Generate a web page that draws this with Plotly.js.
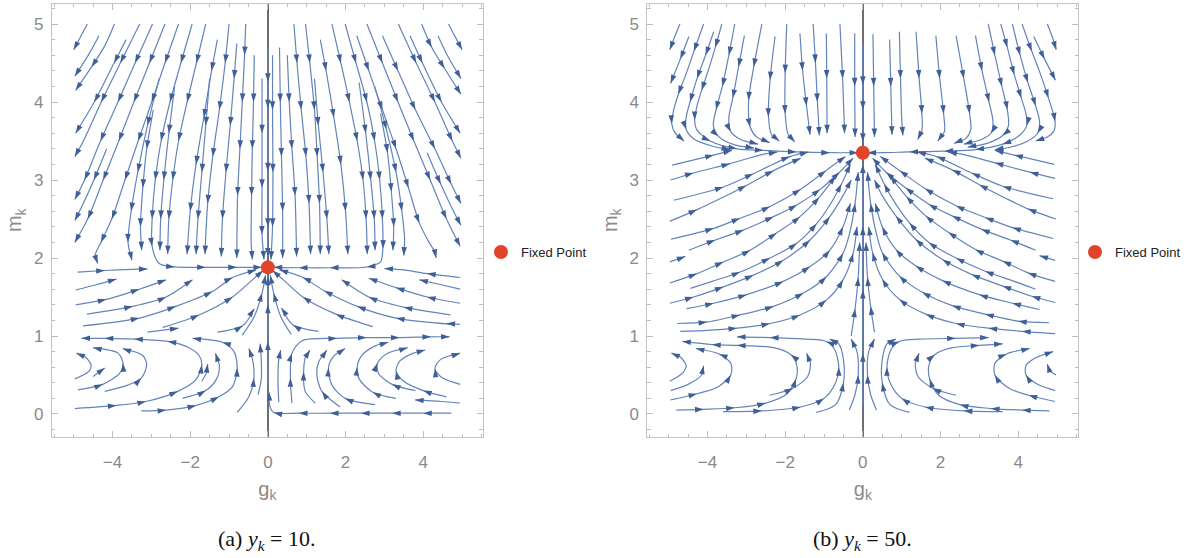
<!DOCTYPE html>
<html><head><meta charset="utf-8">
<script src="https://cdn.plot.ly/plotly-3.0.1.min.js"></script>
<style>html,body{margin:0;padding:0;background:#fff;}#chart{width:1186px;height:558px;}</style>
</head><body><div id="chart"></div>
<script>
// ---------------- DATA ----------------
const panelCaptions = ['(a) <i>y</i><sub><i>k</i></sub> = 10.', '(b) <i>y</i><sub><i>k</i></sub> = 50.'];
const fixedPointG = [0, 0];
const fixedPointM = [1.88, 3.35];
const xTickVals = [-4, -2, 0, 2, 4];
const yTickVals = [0, 1, 2, 3, 4, 5];
const legendName = 'Fixed Point';

// Panel (a): streamlines, each a list of [g_k, m_k] points in flow order
const a_upperLeft = [
  [[-4.65,5.0],[-4.83,4.83],[-5.0,4.67]],
  [[-4.35,4.85],[-4.6,4.62],[-4.97,4.33]],
  [[-3.95,5.0],[-4.2,4.72],[-4.54,4.45],[-4.95,4.15]],
  [[-3.65,4.8],[-3.96,4.5],[-4.47,4.0],[-4.95,3.6]],
  [[-3.3,5.0],[-3.8,4.5],[-4.29,4.0],[-4.75,3.5],[-4.97,3.3]],
  [[-2.97,5.0],[-3.42,4.5],[-3.86,4.0],[-4.31,3.5],[-4.72,3.0],[-4.97,2.75]],
  [[-4.15,3.4],[-4.48,3.0],[-4.8,2.65],[-4.97,2.48]],
  [[-2.65,5.0],[-3.05,4.5],[-3.45,4.0],[-3.84,3.5],[-4.24,3.0],[-4.64,2.5],[-4.97,2.2]],
  [[-2.3,5.0],[-2.65,4.5],[-2.99,4.0],[-3.34,3.5],[-3.68,3.0],[-4.02,2.5],[-4.3,2.2],[-4.45,2.03],[-4.38,1.93]],
  [[-2.8,4.3],[-3.1,3.7],[-3.35,3.1],[-3.52,2.6],[-3.6,2.2],[-3.5,1.97]],
  [[-2.95,3.9],[-3.12,3.4],[-3.22,2.9],[-3.28,2.4],[-3.25,2.1]],
  [[-1.95,5.0],[-2.24,4.5],[-2.52,4.0],[-2.75,3.5],[-2.9,3.0],[-2.98,2.5],[-2.98,2.15],[-2.8,1.93],[-2.4,1.885],[-1.6,1.88],[-0.8,1.88],[-0.15,1.88]],
  [[-2.4,4.2],[-2.55,3.6],[-2.68,3.0],[-2.76,2.5],[-2.78,2.1]],
  [[-1.6,5.0],[-1.84,4.5],[-2.08,4.0],[-2.3,3.5],[-2.45,3.0],[-2.55,2.5],[-2.58,2.05]],
  [[-1.3,4.8],[-1.45,4.4],[-1.65,3.8],[-1.85,3.2],[-2.0,2.6],[-2.08,2.05]],
  [[-1.5,4.3],[-1.6,3.7],[-1.7,3.1],[-1.8,2.5],[-1.85,2.05]],
  [[-1.0,5.0],[-1.1,4.5],[-1.25,3.9],[-1.42,3.3],[-1.55,2.7],[-1.62,2.05]],
  [[-0.8,4.75],[-0.87,4.3],[-0.97,3.7],[-1.08,3.1],[-1.17,2.5],[-1.2,2.02]],
  [[-0.57,5.0],[-0.6,4.6],[-0.66,4.0],[-0.72,3.4],[-0.78,2.8],[-0.8,2.0]],
  [[-0.35,4.6],[-0.37,4.0],[-0.4,3.4],[-0.42,2.8],[-0.43,2.2],[-0.4,1.98]],
  [[-0.15,4.3],[-0.15,3.6],[-0.15,2.9],[-0.15,2.3],[-0.1,1.98]],
  [[-4.9,1.82],[-4.2,1.84],[-3.5,1.855],[-3.1,1.86]]
];
const a_upperRight = [
  [[4.65,5.0],[4.83,4.83],[5.0,4.67]],
  [[4.38,4.85],[4.62,4.6],[4.97,4.3]],
  [[3.96,5.0],[4.22,4.7],[4.55,4.43],[4.97,4.1]],
  [[3.66,4.85],[3.98,4.5],[4.47,4.0],[4.95,3.6]],
  [[3.36,5.0],[3.82,4.5],[4.3,4.0],[4.75,3.5],[4.97,3.28]],
  [[2.95,4.85],[3.35,4.4],[3.8,3.9],[4.3,3.4],[4.72,2.95],[4.97,2.7]],
  [[4.1,3.35],[4.45,2.95],[4.78,2.6],[4.97,2.42]],
  [[2.55,5.0],[2.95,4.5],[3.35,4.0],[3.76,3.5],[4.18,3.0],[4.6,2.5],[4.95,2.15]],
  [[2.29,4.85],[2.6,4.4],[2.95,3.9],[3.3,3.4],[3.62,2.9],[3.9,2.45],[4.15,2.2],[4.3,2.08],[4.33,2.0]],
  [[2.75,4.2],[3.05,3.65],[3.3,3.1],[3.45,2.6],[3.52,2.25],[3.5,2.03]],
  [[2.9,3.85],[3.08,3.35],[3.18,2.85],[3.24,2.4],[3.22,2.1]],
  [[1.99,5.0],[2.27,4.5],[2.55,4.0],[2.75,3.5],[2.88,3.0],[2.95,2.5],[2.96,2.12],[2.9,1.95],[2.55,1.885],[1.6,1.875],[0.8,1.875],[0.15,1.88]],
  [[2.35,4.25],[2.52,3.6],[2.65,3.0],[2.74,2.5],[2.76,2.1]],
  [[1.65,5.0],[1.88,4.5],[2.1,4.0],[2.3,3.5],[2.45,3.0],[2.53,2.5],[2.56,2.05]],
  [[1.35,4.8],[1.5,4.4],[1.7,3.8],[1.88,3.2],[2.0,2.6],[2.06,2.05]],
  [[1.2,4.3],[1.3,3.7],[1.42,3.1],[1.52,2.5],[1.57,2.05]],
  [[0.97,5.0],[1.08,4.5],[1.2,3.9],[1.27,3.3],[1.33,2.7],[1.35,2.05]],
  [[0.67,5.0],[0.75,4.5],[0.86,3.9],[0.98,3.3],[1.06,2.7],[1.1,2.05]],
  [[0.5,4.6],[0.55,4.0],[0.62,3.4],[0.7,2.8],[0.74,2.02]],
  [[0.3,4.7],[0.32,4.0],[0.35,3.3],[0.38,2.6],[0.38,2.0]],
  [[0.12,4.6],[0.12,3.9],[0.13,3.1],[0.12,2.4],[0.08,1.98]],
  [[4.95,1.75],[4.1,1.8],[3.45,1.85],[3.0,1.865]]
];
const a_axis = [
  [[0,4.7],[0,4.26],[0,3.92],[0,3.11],[0,2.4],[0,2.02]],
  [[0,0.35],[0,0.93],[0,1.4],[0,1.76]]
];
const a_bandLeft = [
  [[-4.95,1.59],[-4.4,1.66],[-3.9,1.73]],
  [[-4.95,1.4],[-4.16,1.47],[-3.31,1.6],[-2.62,1.72]],
  [[-4.66,1.28],[-3.48,1.38],[-2.62,1.5],[-1.94,1.72]],
  [[-4.76,1.13],[-3.31,1.23],[-2.37,1.38],[-1.43,1.57],[-0.91,1.75],[-0.3,1.85]],
  [[-2.71,1.11],[-1.77,1.27],[-0.91,1.5],[-0.4,1.72],[-0.12,1.84]],
  [[-3.1,1.05],[-2.3,1.1]],
  [[-1.3,1.05],[-0.65,1.13],[-0.35,1.35]],
  [[-0.66,1.01],[-0.35,1.25],[-0.15,1.55],[-0.06,1.78]]
];
const a_bandRight = [
  [[4.95,1.6],[4.35,1.67],[3.9,1.72]],
  [[4.95,1.42],[4.1,1.5],[3.3,1.62],[2.6,1.74]],
  [[4.7,1.27],[3.5,1.37],[2.6,1.5],[1.9,1.72]],
  [[4.75,1.15],[3.3,1.23],[2.3,1.38],[1.45,1.58],[0.9,1.75],[0.3,1.85]],
  [[2.7,1.12],[1.75,1.28],[0.9,1.5],[0.4,1.72],[0.12,1.84]],
  [[1.3,1.06],[0.65,1.14],[0.35,1.36]],
  [[0.6,1.02],[0.33,1.25],[0.15,1.55],[0.06,1.78]],
  [[4.95,1.15],[4.6,1.16]]
];
const a_loopLeft = [
  [[-4.97,0.07],[-3.9,0.11],[-3.14,0.16],[-2.32,0.29],[-1.85,0.44],[-1.7,0.63],[-1.77,0.75],[-2.03,0.85],[-2.58,0.93],[-3.44,0.96],[-4.2,0.97],[-4.8,0.97]],
  [[-3.26,0.04],[-2.62,0.05],[-1.85,0.11],[-1.26,0.22],[-0.91,0.35],[-0.79,0.59],[-0.87,0.8],[-1.17,0.92],[-1.94,0.97]],
  [[-2.2,0.2],[-1.6,0.3],[-1.32,0.45],[-1.25,0.62],[-1.35,0.78]],
  [[-1.7,0.42],[-1.58,0.53],[-1.55,0.64]],
  [[-0.79,0.02],[-0.49,0.22],[-0.36,0.46],[-0.4,0.71],[-0.49,0.84]],
  [[-0.25,0.25],[-0.17,0.45],[-0.17,0.7],[-0.2,0.9]],
  [[-4.97,0.45],[-4.6,0.55],[-4.55,0.63],[-4.7,0.73],[-4.93,0.78]],
  [[-4.5,0.48],[-4.2,0.59]],
  [[-4.89,0.31],[-4.25,0.38],[-3.82,0.52],[-3.73,0.65],[-3.86,0.78],[-4.5,0.85]],
  [[-4.2,0.29],[-3.61,0.37],[-3.26,0.46],[-3.12,0.63],[-3.22,0.75],[-3.74,0.84]]
];
const a_loopRight = [
  [[4.72,0.01],[4.0,0.01],[3.2,0.01],[2.4,0.01],[1.6,0.01],[0.8,0.01],[0.15,0.02],[0.05,0.1],[0.03,0.28]],
  [[0.62,0.14],[0.58,0.46],[0.62,0.78],[0.88,0.94],[1.78,0.97],[2.54,0.98],[3.39,0.98],[4.2,0.99],[4.68,0.99]],
  [[0.28,0.15],[0.26,0.45],[0.28,0.7],[0.33,0.82]],
  [[1.22,0.14],[0.96,0.29],[0.92,0.54],[0.97,0.73],[1.09,0.82]],
  [[1.86,0.09],[1.39,0.29],[1.26,0.5],[1.31,0.67],[1.52,0.82]],
  [[2.76,0.12],[1.99,0.2],[1.65,0.37],[1.56,0.59],[1.69,0.74],[1.99,0.84]],
  [[3.3,0.2],[2.7,0.28],[2.35,0.45],[2.3,0.6],[2.42,0.75],[2.75,0.87],[3.1,0.92]],
  [[3.8,0.3],[3.2,0.38],[2.85,0.52],[2.82,0.65],[3.05,0.77],[3.6,0.85]],
  [[4.6,0.22],[4.0,0.3],[3.5,0.42],[3.3,0.55],[3.4,0.68],[3.75,0.78],[4.05,0.82]],
  [[4.95,0.38],[4.5,0.46],[4.3,0.58],[4.45,0.7],[4.95,0.78]],
  [[4.94,0.14],[4.47,0.16],[3.79,0.18]]
];

// Panel (b)
const b_upperLeft = [
  [[-4.71,5.0],[-4.85,4.83],[-4.97,4.67]],
  [[-4.48,4.84],[-4.7,4.55],[-4.95,4.24]],
  [[-4.1,5.0],[-4.35,4.65],[-4.53,4.39],[-4.75,4.1],[-4.87,3.9],[-4.92,3.72],[-4.83,3.6],[-4.6,3.5]],
  [[-3.84,4.9],[-4.05,4.6],[-4.27,4.3],[-4.45,4.0],[-4.55,3.8],[-4.55,3.65],[-4.36,3.53],[-3.84,3.43],[-3.42,3.39]],
  [[-3.63,5.0],[-3.8,4.7],[-3.97,4.42],[-4.15,4.15],[-4.27,3.95],[-4.33,3.77],[-4.27,3.64],[-3.93,3.5],[-3.24,3.4],[-2.56,3.38],[-1.71,3.36],[-0.85,3.35],[-0.12,3.35]],
  [[-3.3,5.0],[-3.45,4.6],[-3.62,4.2],[-3.78,3.9],[-3.85,3.7],[-3.72,3.56],[-3.3,3.45],[-2.8,3.41]],
  [[-3.05,4.85],[-3.2,4.45],[-3.35,4.05],[-3.45,3.8],[-3.4,3.62],[-3.15,3.52],[-2.7,3.46]],
  [[-2.6,5.0],[-2.81,4.45],[-2.94,4.02],[-2.9,3.68],[-2.73,3.55],[-2.4,3.48]],
  [[-2.26,4.84],[-2.39,4.28],[-2.43,3.81],[-2.35,3.58],[-2.15,3.5]],
  [[-1.96,5.0],[-2.0,4.37],[-2.0,3.85],[-1.92,3.58],[-1.75,3.49]],
  [[-1.62,4.88],[-1.55,4.4],[-1.45,3.95],[-1.36,3.58]],
  [[-1.28,5.0],[-1.22,4.5],[-1.17,4.0],[-1.12,3.57]],
  [[-0.94,4.88],[-0.93,4.3],[-0.92,3.6]],
  [[-0.59,5.0],[-0.52,4.3],[-0.47,3.6]],
  [[-0.21,4.88],[-0.21,4.2],[-0.2,3.55]]
];
const b_upperRight = [
  [[4.75,5.0],[4.88,4.83],[4.98,4.67]],
  [[4.4,4.84],[4.68,4.55],[4.96,4.28]],
  [[4.1,5.0],[4.35,4.65],[4.55,4.39],[4.78,4.05],[4.95,3.75],[4.92,3.63],[4.75,3.55],[4.45,3.5]],
  [[3.85,5.0],[4.05,4.6],[4.25,4.25],[4.45,3.95],[4.55,3.75],[4.5,3.6],[4.25,3.5],[3.8,3.42],[3.4,3.39]],
  [[3.55,5.0],[3.72,4.7],[3.9,4.35],[4.08,4.05],[4.2,3.85],[4.22,3.7],[4.05,3.58],[3.6,3.46],[2.9,3.39],[2.1,3.37],[1.2,3.36],[0.5,3.35],[0.12,3.35]],
  [[3.23,5.0],[3.4,4.6],[3.58,4.2],[3.72,3.9],[3.75,3.7],[3.6,3.57],[3.2,3.47],[2.7,3.42]],
  [[2.9,4.85],[3.07,4.4],[3.25,4.0],[3.35,3.75],[3.3,3.6],[3.05,3.52],[2.6,3.46]],
  [[2.4,4.85],[2.6,4.3],[2.75,3.85],[2.78,3.65],[2.65,3.53],[2.35,3.47]],
  [[1.88,4.85],[1.98,4.3],[2.08,3.85],[2.1,3.62],[1.93,3.5]],
  [[1.37,4.9],[1.45,4.3],[1.52,3.85],[1.52,3.63],[1.41,3.52]],
  [[0.94,4.9],[0.97,4.3],[1.0,3.8],[1.03,3.57]],
  [[0.69,4.8],[0.72,4.2],[0.75,3.58]],
  [[0.26,4.87],[0.28,4.2],[0.3,3.55]]
];
const b_axis = [
  [[0,4.75],[0,4.22],[0,3.9],[0,3.49]],
  [[0,0.1],[0,0.78],[0,1.59],[0,2.4],[0,3.2]]
];
const b_bandLeft = [
  [[-4.91,3.19],[-3.84,3.32],[-3.37,3.38]],
  [[-4.95,3.0],[-4.36,3.09],[-3.42,3.21],[-2.65,3.32],[-2.2,3.36]],
  [[-4.87,2.74],[-3.59,2.91],[-2.82,3.08],[-1.88,3.3],[-1.4,3.36]],
  [[-4.97,2.47],[-4.27,2.62],[-3.76,2.74],[-3.0,2.93],[-2.3,3.12],[-1.6,3.28]],
  [[-4.94,2.24],[-3.84,2.38],[-3.16,2.51],[-2.39,2.66],[-1.6,2.88],[-0.95,3.12],[-0.45,3.3]],
  [[-4.97,1.95],[-4.57,2.02]],
  [[-4.48,2.1],[-3.8,2.23],[-3.07,2.36],[-2.3,2.53],[-1.7,2.68],[-1.1,2.88],[-0.6,3.1],[-0.25,3.28]],
  [[-4.97,1.68],[-4.27,1.8],[-3.59,1.95],[-2.9,2.1],[-2.22,2.32],[-1.62,2.53],[-1.12,2.78],[-0.7,3.05]],
  [[-4.44,1.61],[-3.88,1.7],[-3.16,1.82],[-2.39,2.0],[-1.7,2.19],[-1.19,2.44],[-0.85,2.68],[-0.55,2.95],[-0.32,3.2]],
  [[-4.97,1.42],[-4.36,1.5],[-3.59,1.63],[-2.82,1.78],[-2.05,1.97],[-1.36,2.23],[-0.85,2.53],[-0.51,2.8],[-0.3,3.0]],
  [[-4.54,1.35],[-3.84,1.42],[-2.99,1.53],[-2.05,1.7],[-1.36,1.89],[-0.85,2.1],[-0.51,2.4],[-0.32,2.7]],
  [[-4.78,1.16],[-4.01,1.18],[-3.16,1.27],[-2.3,1.38],[-1.53,1.55],[-0.94,1.76],[-0.51,2.06],[-0.34,2.32],[-0.2,2.7],[-0.12,3.1]],
  [[-4.7,1.06],[-4.1,1.07],[-3.24,1.1],[-2.39,1.16],[-1.62,1.27],[-0.94,1.46],[-0.51,1.72],[-0.25,2.06],[-0.15,2.4]],
  [[-0.3,1.0],[-0.2,1.35],[-0.12,1.75],[-0.08,2.2]]
];
const b_bandRight = [
  [[4.93,3.2],[3.9,3.32],[3.4,3.38]],
  [[4.95,3.02],[4.3,3.1],[3.4,3.22],[2.65,3.32],[2.2,3.36]],
  [[4.9,2.76],[3.6,2.92],[2.8,3.09],[1.9,3.3],[1.4,3.36]],
  [[4.97,2.5],[4.25,2.63],[3.7,2.76],[3.0,2.94],[2.3,3.13],[1.6,3.28]],
  [[4.9,2.25],[3.85,2.39],[3.15,2.52],[2.4,2.67],[1.6,2.89],[0.95,3.12],[0.45,3.3]],
  [[4.95,1.97],[4.55,2.03]],
  [[4.45,2.1],[3.8,2.23],[3.05,2.37],[2.3,2.54],[1.7,2.69],[1.1,2.9],[0.6,3.1],[0.25,3.28]],
  [[4.95,1.7],[4.25,1.81],[3.6,1.96],[2.9,2.11],[2.2,2.33],[1.62,2.54],[1.12,2.79],[0.7,3.05]],
  [[4.45,1.6],[3.9,1.7],[3.15,1.83],[2.4,2.0],[1.7,2.2],[1.2,2.45],[0.85,2.69],[0.55,2.95],[0.32,3.2]],
  [[4.95,1.43],[4.35,1.51],[3.6,1.64],[2.8,1.79],[2.05,1.98],[1.36,2.24],[0.85,2.54],[0.5,2.8],[0.3,3.0]],
  [[4.55,1.34],[3.85,1.42],[3.0,1.53],[2.05,1.71],[1.36,1.9],[0.85,2.11],[0.5,2.4],[0.32,2.7]],
  [[4.8,1.17],[4.0,1.19],[3.15,1.28],[2.3,1.39],[1.53,1.56],[0.94,1.77],[0.5,2.07],[0.34,2.33],[0.2,2.7],[0.12,3.1]],
  [[4.95,1.03],[4.1,1.06],[3.24,1.1],[2.4,1.16],[1.62,1.28],[0.94,1.47],[0.5,1.73],[0.25,2.07],[0.15,2.4]],
  [[0.3,1.05],[0.2,1.38],[0.12,1.75],[0.08,2.2]]
];
const b_loopLeft = [
  [[-4.8,0.05],[-4.1,0.06],[-3.3,0.08],[-2.5,0.14],[-1.95,0.26],[-1.72,0.45],[-1.7,0.62],[-1.85,0.76],[-2.3,0.85],[-3.24,0.88],[-3.88,0.89],[-4.65,0.93]],
  [[-3.6,0.03],[-2.6,0.04],[-1.6,0.09],[-1.0,0.2],[-0.72,0.38],[-0.62,0.6],[-0.72,0.82],[-0.94,0.93],[-1.45,0.96],[-2.39,0.98],[-3.24,0.99]],
  [[-2.4,0.24],[-1.8,0.33],[-1.42,0.48],[-1.35,0.65],[-1.45,0.78]],
  [[-4.95,0.18],[-4.27,0.26],[-3.76,0.34],[-3.4,0.5],[-3.4,0.65],[-3.7,0.77],[-4.3,0.84]],
  [[-4.97,0.42],[-4.65,0.52],[-4.55,0.62],[-4.7,0.73],[-4.93,0.78]],
  [[-4.95,0.3],[-4.5,0.38],[-4.15,0.5],[-4.1,0.62]],
  [[-1.2,0.02],[-0.7,0.12],[-0.5,0.4],[-0.5,0.7],[-0.62,0.9],[-0.85,0.96]],
  [[-0.35,0.05],[-0.2,0.25],[-0.12,0.5],[-0.15,0.8],[-0.3,0.96]]
];
const b_loopRight = [
  [[4.8,0.04],[4.1,0.05],[3.3,0.07],[2.5,0.12],[1.95,0.24],[1.72,0.45],[1.7,0.62],[1.85,0.76],[2.3,0.85],[3.0,0.88],[3.6,0.9]],
  [[3.6,0.03],[2.6,0.04],[1.6,0.09],[1.0,0.2],[0.72,0.38],[0.62,0.6],[0.72,0.82],[0.94,0.93],[1.45,0.96],[2.39,0.97],[3.24,0.98]],
  [[2.4,0.24],[1.8,0.33],[1.42,0.48],[1.35,0.65],[1.45,0.78]],
  [[4.95,0.16],[4.27,0.24],[3.76,0.33],[3.4,0.5],[3.4,0.65],[3.7,0.77],[4.3,0.84]],
  [[4.95,0.3],[4.5,0.38],[4.2,0.5],[4.2,0.62],[4.45,0.72],[4.9,0.8]],
  [[4.97,0.5],[4.8,0.56],[4.75,0.64]],
  [[1.2,0.02],[0.7,0.12],[0.5,0.4],[0.5,0.7],[0.62,0.9],[0.85,0.96]],
  [[0.35,0.05],[0.2,0.25],[0.12,0.5],[0.15,0.8],[0.3,0.96]]
];

// ---------------- STYLE / LAYOUT ----------------
const W = 1186, H = 558;
const lineColor = '#6384ba', arrowColor = '#3f5f96', fpColor = '#e0452b';
const yDomain = [1 - 437/H, 1 - 3.5/H];
const yRange = [-0.295, 5.263];
const panels = [
  {xa:'x', ya:'y', dom:[52/W, 485/W], range:[-5.564, 5.538],
   groups:[a_upperLeft,a_upperRight,a_axis,a_bandLeft,a_bandRight,a_loopLeft,a_loopRight], legend:'legend'},
  {xa:'x2', ya:'y2', dom:[650/W, 1083/W], range:[-5.551, 5.551],
   groups:[b_upperLeft,b_upperRight,b_axis,b_bandLeft,b_bandRight,b_loopLeft,b_loopRight], legend:'legend2'}
];

const traces = [];
panels.forEach((p, k) => {
  const sx = (p.dom[1]-p.dom[0])*W/(p.range[1]-p.range[0]);
  const sy = (yDomain[1]-yDomain[0])*H/(yRange[1]-yRange[0]);
  const X=[], Y=[], AX=[], AY=[], ANG=[];
  p.groups.forEach(lines => lines.forEach(line => {
    line.forEach(q => { X.push(q[0]); Y.push(q[1]); });
    X.push(null); Y.push(null);
    const n = line.length;
    let last = line[0];
    for (let i = 1; i < n; i++) {
      const q = line[i], isEnd = (i === n-1);
      const d = Math.hypot((q[0]-last[0])*sx, (q[1]-last[1])*sy);
      const dEnd = Math.hypot((line[n-1][0]-q[0])*sx, (line[n-1][1]-q[1])*sy);
      if (isEnd || (d >= 24 && dEnd >= 18)) {
        const a = line[i-1], b = isEnd ? q : line[i+1];
        AX.push(q[0]); AY.push(q[1]);
        ANG.push(Math.atan2((b[0]-a[0])*sx, (b[1]-a[1])*sy)*180/Math.PI);
        last = q;
      }
    }
  }));
  traces.push({type:'scatter', mode:'lines', x:X, y:Y, xaxis:p.xa, yaxis:p.ya,
    line:{color:lineColor, width:1.2, shape:'spline', smoothing:0.8}, hoverinfo:'skip', showlegend:false});
  traces.push({type:'scatter', mode:'markers', x:AX, y:AY, xaxis:p.xa, yaxis:p.ya,
    marker:{symbol:'arrow', size:9, color:arrowColor, angle:ANG, line:{width:0}}, hoverinfo:'skip', showlegend:false});
  traces.push({type:'scatter', mode:'markers', x:[fixedPointG[k]], y:[fixedPointM[k]], xaxis:p.xa, yaxis:p.ya,
    name:legendName, legend:p.legend, showlegend:true,
    marker:{symbol:'circle', size:14, color:fpColor, line:{width:0}}});
});

const tickFont = {family:'Liberation Sans, Arial, sans-serif', size:17, color:'#8a8a8a'};
const titleFont = {family:'Liberation Sans, Arial, sans-serif', size:20, color:'#8a8a8a'};
function xAxis(p){ return {
  domain:p.dom, range:p.range, anchor:p.ya, tickvals:xTickVals, ticks:'inside', ticklen:6, tickcolor:'#bdbdbd',
  minor:{dtick:0.5, ticks:'inside', ticklen:3.5, tickcolor:'#bdbdbd', showgrid:false},
  showline:true, linecolor:'#c4c4c4', linewidth:1, mirror:'ticks', showgrid:false,
  zeroline:true, zerolinecolor:'#6e6e6e', zerolinewidth:1.6, tickfont:tickFont, ticklabelstandoff:10,
  title:{text:'g<sub>k</sub>', font:titleFont, standoff:10},
  fixedrange:true }; }
function yAxis(p){ return {
  domain:yDomain, range:yRange, anchor:p.xa, tickvals:yTickVals, ticks:'inside', ticklen:6, tickcolor:'#bdbdbd',
  minor:{dtick:0.2, ticks:'inside', ticklen:3.5, tickcolor:'#bdbdbd', showgrid:false},
  showline:true, linecolor:'#c4c4c4', linewidth:1, mirror:'ticks', showgrid:false, zeroline:false,
  tickfont:tickFont, ticklabelstandoff:4,
  title:{text:'m<sub>k</sub>', font:titleFont, standoff:6},
  fixedrange:true }; }

const legendBase = {yanchor:'middle', xanchor:'left', bgcolor:'rgba(0,0,0,0)', borderwidth:0,
  font:{family:'Liberation Sans, Arial, sans-serif', size:13, color:'#222'}, itemclick:false, itemdoubleclick:false};

const layout = {
  width:W, height:H, margin:{l:0, r:0, t:0, b:0}, paper_bgcolor:'#fff', plot_bgcolor:'#fff',
  xaxis:xAxis(panels[0]), yaxis:yAxis(panels[0]), xaxis2:xAxis(panels[1]), yaxis2:yAxis(panels[1]),
  legend:Object.assign({x:483/W, y:1-252/H}, legendBase),
  legend2:Object.assign({x:1080/W, y:1-252/H}, legendBase),
  annotations: panelCaptions.map((t, k) => ({
    text:t, xref:'paper', yref:'paper', x:k===0 ? 268/W : 866/W, y:1-540/H, xanchor:'center', yanchor:'middle',
    showarrow:false, font:{family:'Liberation Serif, Times New Roman, serif', size:22, color:'#111'} })),
  showlegend:true
};

Plotly.newPlot('chart', traces, layout, {staticPlot:true, displayModeBar:false});
</script></body></html>
